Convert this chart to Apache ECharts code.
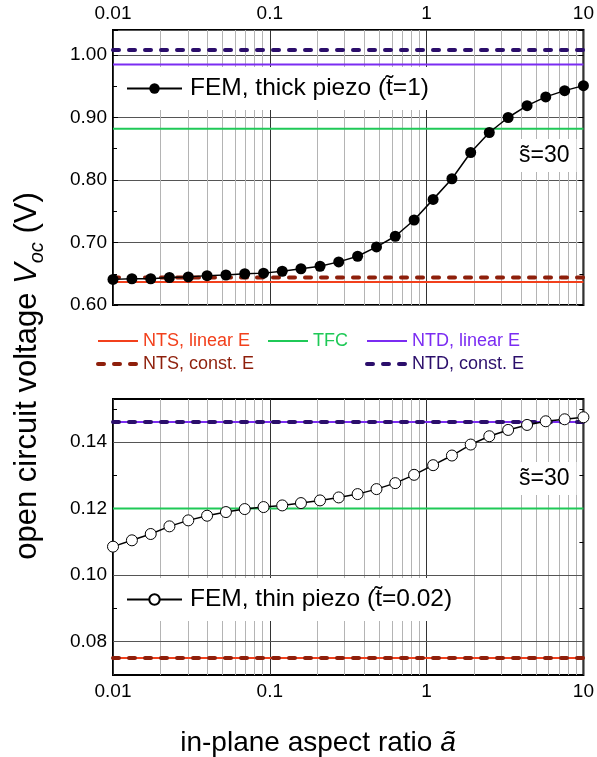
<!DOCTYPE html>
<html>
<head>
<meta charset="utf-8">
<title>open circuit voltage vs aspect ratio</title>
<script src="https://cdn.jsdelivr.net/npm/echarts@6/dist/echarts.min.js"></script>
<style>
  html, body { margin: 0; padding: 0; background: #fff; }
  #main { width: 597px; height: 757px; }
</style>
</head>
<body>
<div id="main"></div>
<script>
// in-plane aspect ratio used for the FEM runs
const aspect = [0.01, 0.0132, 0.0174, 0.0229, 0.0302, 0.0398, 0.0525, 0.0692, 0.0912, 0.120,
  0.158, 0.209, 0.275, 0.363, 0.479, 0.631, 0.832, 1.10, 1.45, 1.91, 2.51, 3.31, 4.37, 5.75, 7.59, 10]
// FEM results (V)
const femThick = [0.641, 0.642, 0.642, 0.644, 0.645, 0.647, 0.648, 0.650, 0.651, 0.654,
  0.658, 0.662, 0.669, 0.678, 0.693, 0.710, 0.736, 0.769, 0.802, 0.844, 0.876, 0.900, 0.919, 0.933, 0.943, 0.951]
const femThin = [0.1086, 0.1105, 0.1124, 0.1147, 0.1165, 0.1179, 0.1190, 0.1199, 0.1205, 0.1210,
  0.1217, 0.1225, 0.1234, 0.1244, 0.1259, 0.1277, 0.1302, 0.1331, 0.1360, 0.1393, 0.1418, 0.1437, 0.1452, 0.1463, 0.1469, 0.1475]
// analytical models, [thick panel, thin panel]
const ntsLinearE = [0.637, 0.0751]
const ntsConstE = [0.644, 0.0751]
const tfc = [0.882, 0.1201]
const ntdLinearE = [0.985, 0.1461]
const ntdConstE = [1.008, 0.1461]
const aspectRange = [0.01, 10]
// grid lines
const minorGridX = [0.02, 0.03, 0.04, 0.05, 0.06, 0.07, 0.08, 0.09,
  0.2, 0.3, 0.4, 0.5, 0.6, 0.7, 0.8, 0.9, 2, 3, 4, 5, 6, 7, 8, 9]
const majorGridYThin = [0.08, 0.10, 0.12, 0.14]

const font = "'Liberation Sans', Arial, sans-serif"
const cNtsLin = '#f2401c'
const cNtsConst = '#8e1f0b'
const cTfc = '#1fc957'
const cNtdLin = '#7b2cf2'
const cNtdConst = '#2b0e6b'
const nameThick = 'FEM, thick piezo (t\u0303=1)'
const nameThin = 'FEM, thin piezo (t\u0303=0.02)'

var myChart = echarts.init(document.getElementById('main'))

// horizontal model line in one panel
function hline(name, vals, color, dashed, p) {
  return {
    name: name,
    type: 'line',
    xAxisIndex: p,
    yAxisIndex: p * 2,
    data: aspectRange.map(x => [x, vals[p]]),
    symbol: 'none',
    silent: true,
    z: dashed ? 3 : 2,
    lineStyle: dashed
      ? { color: color, width: 4, type: [6, 10], cap: 'round' }
      : { color: color, width: 2 },
    itemStyle: { color: color }
  }
}

// minor (and for the lower panel also major) grid lines
function gridLines(p) {
  const lines = minorGridX.map(v => ({ xAxis: v }))
  if (p === 1) {
    majorGridYThin.forEach(v => lines.push({ yAxis: v, lineStyle: { color: '#555' } }))
  }
  return {
    type: 'line',
    xAxisIndex: p,
    yAxisIndex: p * 2,
    data: [],
    silent: true,
    z: 1,
    markLine: {
      z: 1,
      silent: true,
      symbol: 'none',
      label: { show: false },
      lineStyle: { color: '#b4b4b4', width: 1, type: 'solid' },
      data: lines
    }
  }
}

function xAxisFor(p) {
  return {
    type: 'log',
    logBase: 10,
    gridIndex: p,
    min: 0.01,
    max: 10,
    position: p === 0 ? 'top' : 'bottom',
    axisLine: { show: false },
    axisTick: { show: false },
    axisLabel: {
      fontSize: 19, color: '#000', fontFamily: font, margin: 7,
      formatter: v => String(+(+v).toPrecision(3))
    },
    splitLine: { show: true, lineStyle: { color: '#333', width: 1 } }
  }
}

function yAxisFor(p, side) {
  const left = side === 'left'
  const top = p === 0
  return {
    type: 'value',
    gridIndex: p,
    position: side,
    min: top ? 0.6 : 0.07,
    max: top ? 1.04 : 0.153,
    interval: top ? 0.1 : 0.01,
    axisLine: { show: false },
    axisTick: { show: true, inside: true, length: top ? 5 : 4, lineStyle: { color: '#000' } },
    minorTick: { show: top, splitNumber: 2, length: 4, lineStyle: { color: '#000' } },
    axisLabel: {
      show: left, fontSize: 19, color: '#000', fontFamily: font, margin: 6,
      showMaxLabel: false,
      formatter: v => {
        if (top) return v.toFixed(2)
        const k = Math.round(v * 100)
        return (Math.abs(v * 100 - k) < 1e-6 && k % 2 === 0) ? v.toFixed(2) : ''
      }
    },
    splitLine: { show: top && left, lineStyle: { color: '#555', width: 1 } }
  }
}

const sideLegend = {
  orient: 'vertical',
  top: 332,
  padding: 0,
  itemWidth: 40,
  itemHeight: 14,
  itemGap: 5,
  selectedMode: false,
  itemStyle: { opacity: 0 },
  textStyle: { fontSize: 18, fontFamily: font }
}

const femLegend = {
  z: 10,
  padding: [9, 8, 9, 9],
  backgroundColor: '#fff',
  itemWidth: 55,
  itemHeight: 13,
  selectedMode: false,
  textStyle: { fontSize: 24.5, fontFamily: font, color: '#000', padding: [0, 0, 0, 3] }
}

const sLabel = {
  text: 's\u0303=30',
  z: 10,
  left: 512,
  padding: [5, 7],
  backgroundColor: '#fff',
  textStyle: { fontSize: 23, fontWeight: 'normal', color: '#000', fontFamily: font }
}

const option = {
  animation: false,
  backgroundColor: '#fff',
  textStyle: { fontFamily: font },
  grid: [
    { left: 113, right: 10, top: 30, height: 275, show: true, borderColor: '#000', borderWidth: 2, backgroundColor: 'transparent' },
    { left: 113, right: 10, top: 399, height: 276, show: true, borderColor: '#000', borderWidth: 2, backgroundColor: 'transparent' }
  ],
  xAxis: [xAxisFor(0), xAxisFor(1)],
  yAxis: [yAxisFor(0, 'left'), yAxisFor(0, 'right'), yAxisFor(1, 'left'), yAxisFor(1, 'right')],
  title: [
    Object.assign({}, sLabel, { top: 139 }),
    Object.assign({}, sLabel, { top: 462 })
  ],
  legend: [
    Object.assign({}, sideLegend, {
      left: 96,
      data: [
        { name: 'NTS, linear E', textStyle: { color: cNtsLin }, lineStyle: { width: 2 } },
        { name: 'NTS, const. E', textStyle: { color: cNtsConst }, lineStyle: { width: 4 } }
      ]
    }),
    Object.assign({}, sideLegend, {
      left: 267,
      data: [{ name: 'TFC', textStyle: { color: cTfc }, lineStyle: { width: 2 } }]
    }),
    Object.assign({}, sideLegend, {
      left: 365,
      data: [
        { name: 'NTD, linear E', textStyle: { color: cNtdLin }, lineStyle: { width: 2 } },
        { name: 'NTD, const. E', textStyle: { color: cNtdConst }, lineStyle: { width: 4 } }
      ]
    }),
    Object.assign({}, femLegend, { left: 117, top: 67, data: [nameThick] }),
    Object.assign({}, femLegend, { left: 117, top: 578, data: [nameThin] })
  ],
  graphic: [
    {
      type: 'text',
      x: 27,
      y: 376,
      rotation: Math.PI / 2,
      style: {
        text: 'open circuit voltage {v|V}{s|oc} (V)',
        font: '31px ' + font,
        fill: '#000',
        textAlign: 'center',
        textVerticalAlign: 'middle',
        verticalAlign: 'middle',
        rich: {
          v: { fontSize: 31, fontStyle: 'italic', fontFamily: font },
          s: { fontSize: 20, fontStyle: 'italic', fontFamily: font, verticalAlign: 'bottom', lineHeight: 40 }
        }
      }
    },
    {
      type: 'text',
      x: 318,
      y: 743,
      style: {
        text: 'in-plane aspect ratio {a|ã}',
        font: '28px ' + font,
        fill: '#000',
        textAlign: 'center',
        textVerticalAlign: 'middle',
        verticalAlign: 'middle',
        rich: { a: { fontSize: 28, fontStyle: 'italic', fontFamily: font } }
      }
    }
  ],
  series: [
    gridLines(0),
    gridLines(1),
    hline('NTS, linear E', ntsLinearE, cNtsLin, false, 0),
    hline('TFC', tfc, cTfc, false, 0),
    hline('NTD, linear E', ntdLinearE, cNtdLin, false, 0),
    hline('NTS, const. E', ntsConstE, cNtsConst, true, 0),
    hline('NTD, const. E', ntdConstE, cNtdConst, true, 0),
    hline('NTS, linear E', ntsLinearE, cNtsLin, false, 1),
    hline('TFC', tfc, cTfc, false, 1),
    hline('NTD, linear E', ntdLinearE, cNtdLin, false, 1),
    hline('NTS, const. E', ntsConstE, cNtsConst, true, 1),
    hline('NTD, const. E', ntdConstE, cNtdConst, true, 1),
    {
      name: nameThick,
      type: 'line',
      xAxisIndex: 0,
      yAxisIndex: 0,
      data: aspect.map((a, i) => [a, femThick[i]]),
      symbol: 'circle',
      symbolSize: 11,
      clip: false,
      z: 5,
      lineStyle: { color: '#000', width: 1.5 },
      itemStyle: { color: '#000' }
    },
    {
      name: nameThin,
      type: 'line',
      xAxisIndex: 1,
      yAxisIndex: 2,
      data: aspect.map((a, i) => [a, femThin[i]]),
      symbol: 'circle',
      symbolSize: 11,
      clip: false,
      z: 5,
      lineStyle: { color: '#000', width: 1.5 },
      itemStyle: { color: '#fff', borderColor: '#000', borderWidth: 1 }
    }
  ]
}

myChart.setOption(option)
</script>
</body>
</html>
